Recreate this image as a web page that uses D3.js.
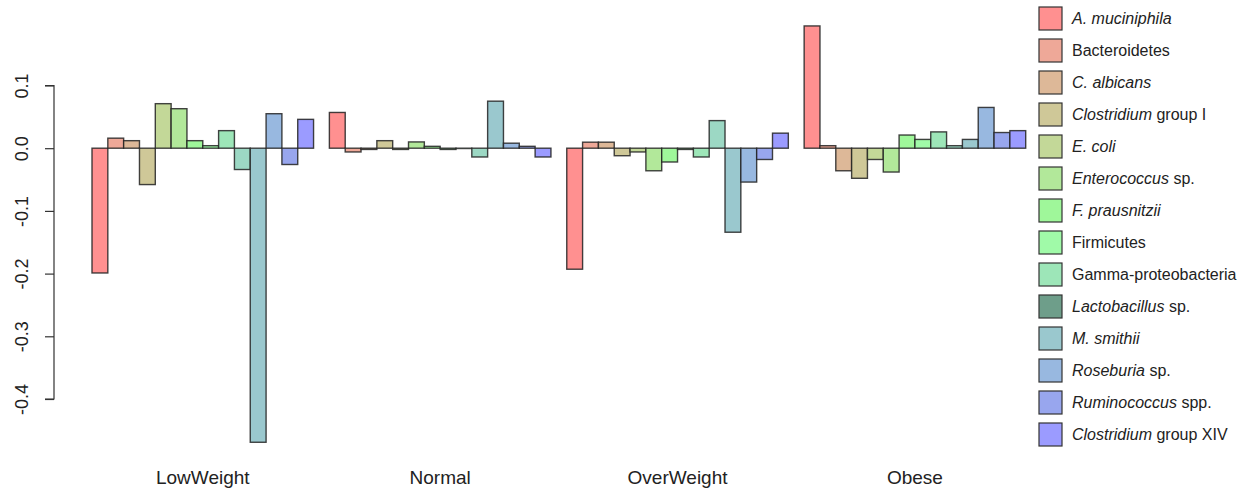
<!DOCTYPE html>
<html>
<head>
<meta charset="utf-8">
<script src="https://cdn.jsdelivr.net/npm/d3@7"></script>
<style>
  html, body { margin: 0; padding: 0; background: #fff; }
  svg { display: block; font-family: "Liberation Sans", Arial, sans-serif; }
</style>
</head>
<body>
<svg id="chart" width="1253" height="490"></svg>
<script>
const groups = ["LowWeight", "Normal", "OverWeight", "Obese"];

const species = [
  "A. muciniphila", "Bacteroidetes", "C. albicans", "Clostridium group I",
  "E. coli", "Enterococcus sp.", "F. prausnitzii", "Firmicutes",
  "Gamma-proteobacteria", "Lactobacillus sp.", "M. smithii", "Roseburia sp.",
  "Ruminococcus spp.", "Clostridium group XIV"
];

// legend label parts: [italic part, plain part]
const labelParts = [
  ["A. muciniphila", ""], ["", "Bacteroidetes"], ["C. albicans", ""], ["Clostridium", " group I"],
  ["E. coli", ""], ["Enterococcus", " sp."], ["F. prausnitzii", ""], ["", "Firmicutes"],
  ["", "Gamma-proteobacteria"], ["Lactobacillus", " sp."], ["M. smithii", ""], ["Roseburia", " sp."],
  ["Ruminococcus", " spp."], ["Clostridium", " group XIV"]
];

const lowWeight  = [-0.199, 0.016, 0.012, -0.058, 0.071, 0.063, 0.012, 0.004, 0.028, -0.034, -0.469, 0.055, -0.026, 0.046];
const normal     = [0.057, -0.006, -0.002, 0.012, -0.002, 0.010, 0.003, -0.002, -0.0005, -0.014, 0.075, 0.008, 0.003, -0.014];
const overWeight = [-0.193, 0.0096, 0.0096, -0.012, -0.006, -0.036, -0.022, -0.002, -0.014, 0.044, -0.134, -0.054, -0.018, 0.024];
const obese      = [0.195, 0.004, -0.036, -0.048, -0.018, -0.038, 0.021, 0.014, 0.026, 0.004, 0.014, 0.065, 0.025, 0.028];

const seriesByGroup = [lowWeight, normal, overWeight, obese];

const barColors = [
  "#ff9090", "#eea898", "#ddb898", "#cfc898", "#c3d898", "#b2e89a", "#9ff79a",
  "#a0faa8", "#9de6b8", "#9cd8c4", "#9ac8ce", "#98b8e0", "#98a6ee", "#9b9bff"
];
const legendColors = [
  "#ff9090", "#eea898", "#ddb898", "#cfc898", "#c3d898", "#b2e89a", "#9ff79a",
  "#a0faa8", "#9de6b8", "#6e9e8a", "#9ac8ce", "#98b8e0", "#98a6ee", "#9b9bff"
];

const yTicks = [0.1, 0.0, -0.1, -0.2, -0.3, -0.4];

const svg = d3.select("#chart");

const y = d3.scaleLinear().domain([-0.4, 0.1]).range([399, 85.5]);
const x0 = d3.scaleBand().domain(groups).range([92, 1025.7]).paddingInner(1 / 15).paddingOuter(0);
const x1 = d3.scaleBand().domain(species).range([0, x0.bandwidth()]).padding(0);
const color = d3.scaleOrdinal().domain(species).range(barColors);

// bars
const g = svg.append("g");
groups.forEach((grp, gi) => {
  const data = species.map((s, i) => ({ s, v: seriesByGroup[gi][i] }));
  g.append("g")
    .attr("transform", `translate(${x0(grp)},0)`)
    .selectAll("rect")
    .data(data)
    .join("rect")
    .attr("x", d => x1(d.s))
    .attr("width", x1.bandwidth())
    .attr("y", d => Math.min(y(d.v), y(0)))
    .attr("height", d => Math.abs(y(d.v) - y(0)))
    .attr("fill", d => color(d.s))
    .attr("stroke", "#222")
    .attr("stroke-opacity", 0.85)
    .attr("stroke-width", 1.4);
});

// y axis
const axis = d3.axisLeft(y).tickValues(yTicks).tickSize(9).tickFormat(d3.format(".1f"));
const ag = svg.append("g").attr("transform", "translate(54,0)").call(axis);
ag.select(".domain").attr("stroke", "#333").attr("stroke-width", 1.2).attr("d", `M-9,${y(0.1)}H0V${y(-0.4)}H-9`);
ag.selectAll(".tick line").attr("stroke", "#333").attr("stroke-width", 1.2);
ag.selectAll(".tick text")
  .attr("x", null).attr("dy", null)
  .attr("text-anchor", "middle")
  .attr("transform", "translate(-26,0) rotate(-90)")
  .attr("font-size", 18)
  .attr("font-family", "Liberation Sans, Arial, sans-serif")
  .attr("fill", "#222")
  .text(d => d3.format(".1f")(d).replace("−", "-"));

// group labels
svg.append("g").selectAll("text")
  .data(groups)
  .join("text")
  .attr("x", d => x0(d) + x0.bandwidth() / 2)
  .attr("y", 484)
  .attr("text-anchor", "middle")
  .attr("font-size", 19)
  .attr("fill", "#222")
  .text(d => d);

// legend
const lg = svg.append("g");
const items = lg.selectAll("g").data(species).join("g")
  .attr("transform", (d, i) => `translate(1039,${7 + i * 32})`);
items.append("rect")
  .attr("width", 23).attr("height", 23)
  .attr("fill", (d, i) => legendColors[i])
  .attr("stroke", "#333").attr("stroke-width", 1.2);
const txt = items.append("text")
  .attr("x", 33).attr("y", 11.5).attr("dy", "0.35em")
  .attr("font-size", 16).attr("fill", "#222");
txt.each(function(d, i) {
  const t = d3.select(this);
  const [it, pl] = labelParts[i];
  if (it) t.append("tspan").attr("font-style", "italic").text(it);
  if (pl) t.append("tspan").text(pl);
});
</script>
</body>
</html>
